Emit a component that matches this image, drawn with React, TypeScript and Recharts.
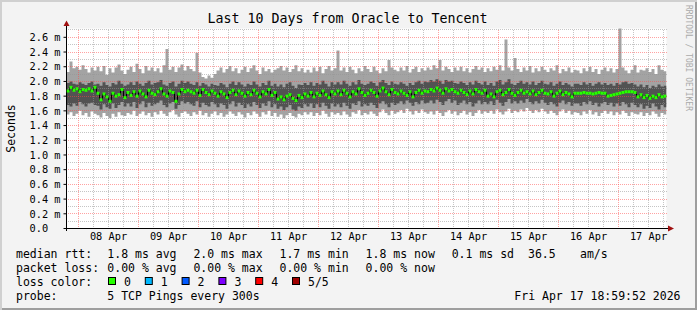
import React from 'react';
import {
  ComposedChart, Area, Line, XAxis, YAxis, CartesianGrid, ReferenceLine, ReferenceDot,
} from 'recharts';

// 5 TCP pings per bucket, sorted: min, 2nd, median, 4th, max (ms)
const minRtt = [
  1.55, 1.58, 1.53, 1.56, 1.60, 1.54, 1.57, 1.52, 1.59, 1.56,
  1.54, 1.51, 1.57, 1.53, 1.50, 1.56, 1.52, 1.58, 1.54, 1.53,
  1.57, 1.55, 1.60, 1.53, 1.56, 1.59, 1.54, 1.57, 1.52, 1.58,
  1.55, 1.60, 1.56, 1.53, 1.58, 1.61, 1.55, 1.52, 1.57, 1.59,
  1.56, 1.53, 1.58, 1.55, 1.60, 1.54, 1.57, 1.52, 1.56, 1.59,
  1.54, 1.57, 1.52, 1.55, 1.59, 1.56, 1.53, 1.58, 1.55, 1.51,
  1.57, 1.54, 1.59, 1.56, 1.52, 1.58, 1.55, 1.60, 1.53, 1.57,
  1.52, 1.55, 1.50, 1.54, 1.57, 1.53, 1.51, 1.56, 1.54, 1.58,
  1.55, 1.58, 1.53, 1.57, 1.54, 1.60, 1.56, 1.52, 1.58, 1.55,
  1.57, 1.54, 1.59, 1.55, 1.52, 1.58, 1.56, 1.61, 1.54, 1.57,
  1.55, 1.59, 1.56, 1.53, 1.58, 1.62, 1.57, 1.54, 1.60, 1.56,
  1.58, 1.61, 1.57, 1.63, 1.59, 1.55, 1.60, 1.57, 1.62, 1.58,
  1.56, 1.59, 1.55, 1.60, 1.57, 1.53, 1.58, 1.61, 1.56, 1.59,
  1.54, 1.57, 1.60, 1.55, 1.58, 1.53, 1.57, 1.61, 1.56, 1.59,
  1.57, 1.60, 1.56, 1.62, 1.58, 1.55, 1.59, 1.63, 1.57, 1.60,
  1.58, 1.62, 1.59, 1.64, 1.60, 1.57, 1.61, 1.58, 1.63, 1.59,
  1.56, 1.60, 1.57, 1.54, 1.59, 1.62, 1.57, 1.60, 1.55, 1.58,
  1.57, 1.54, 1.59, 1.56, 1.61, 1.55, 1.58, 1.53, 1.57, 1.60,
  1.56, 1.59, 1.54, 1.58, 1.55, 1.60, 1.57, 1.53, 1.58, 1.56,
  1.55, 1.58, 1.53, 1.57, 1.54, 1.59, 1.56, 1.52, 1.57, 1.55,
];
const lowRtt = [
  1.68, 1.66, 1.70, 1.67, 1.72, 1.69, 1.66, 1.70, 1.71, 1.68,
  1.67, 1.62, 1.69, 1.65, 1.63, 1.70, 1.64, 1.68, 1.72, 1.66,
  1.70, 1.66, 1.72, 1.64, 1.69, 1.73, 1.65, 1.71, 1.67, 1.69,
  1.71, 1.74, 1.68, 1.65, 1.70, 1.72, 1.63, 1.68, 1.73, 1.70,
  1.72, 1.69, 1.67, 1.73, 1.65, 1.71, 1.68, 1.66, 1.72, 1.69,
  1.65, 1.70, 1.68, 1.63, 1.69, 1.73, 1.66, 1.71, 1.68, 1.64,
  1.69, 1.66, 1.72, 1.68, 1.64, 1.70, 1.67, 1.73, 1.65, 1.69,
  1.63, 1.66, 1.61, 1.65, 1.68, 1.62, 1.60, 1.66, 1.64, 1.69,
  1.66, 1.70, 1.64, 1.69, 1.65, 1.71, 1.67, 1.63, 1.70, 1.66,
  1.69, 1.65, 1.71, 1.67, 1.63, 1.70, 1.68, 1.73, 1.66, 1.69,
  1.67, 1.71, 1.68, 1.64, 1.70, 1.73, 1.69, 1.65, 1.71, 1.68,
  1.70, 1.73, 1.69, 1.74, 1.71, 1.67, 1.72, 1.69, 1.74, 1.70,
  1.71, 1.74, 1.70, 1.75, 1.72, 1.68, 1.73, 1.76, 1.71, 1.74,
  1.68, 1.71, 1.74, 1.69, 1.72, 1.66, 1.70, 1.74, 1.69, 1.72,
  1.69, 1.73, 1.68, 1.75, 1.71, 1.67, 1.72, 1.76, 1.70, 1.73,
  1.70, 1.74, 1.71, 1.76, 1.72, 1.69, 1.73, 1.70, 1.75, 1.71,
  1.68, 1.72, 1.69, 1.66, 1.71, 1.74, 1.69, 1.72, 1.67, 1.70,
  1.70, 1.67, 1.72, 1.69, 1.73, 1.68, 1.71, 1.66, 1.70, 1.72,
  1.68, 1.71, 1.66, 1.70, 1.67, 1.72, 1.69, 1.65, 1.71, 1.68,
  1.65, 1.69, 1.63, 1.67, 1.64, 1.70, 1.66, 1.62, 1.68, 1.65,
];
const medRtt = [
  1.87, 1.92, 1.88, 1.90, 1.86, 1.89, 1.88, 1.90, 1.87, 1.92,
  1.84, 1.75, 1.83, 1.79, 1.73, 1.84, 1.80, 1.82, 1.89, 1.78,
  1.85, 1.81, 1.86, 1.80, 1.87, 1.83, 1.79, 1.88, 1.84, 1.82,
  1.86, 1.90, 1.83, 1.80, 1.87, 1.85, 1.73, 1.83, 1.89, 1.86,
  1.88, 1.86, 1.84, 1.88, 1.81, 1.89, 1.85, 1.82, 1.87, 1.84,
  1.80, 1.86, 1.83, 1.78, 1.85, 1.88, 1.82, 1.87, 1.84, 1.80,
  1.85, 1.82, 1.88, 1.84, 1.79, 1.86, 1.83, 1.89, 1.81, 1.85,
  1.76, 1.79, 1.75, 1.80, 1.82, 1.77, 1.74, 1.81, 1.78, 1.83,
  1.80, 1.85, 1.79, 1.84, 1.81, 1.87, 1.82, 1.78, 1.86, 1.83,
  1.87, 1.82, 1.88, 1.84, 1.79, 1.86, 1.83, 1.90, 1.85, 1.81,
  1.84, 1.88, 1.85, 1.80, 1.87, 1.91, 1.86, 1.82, 1.89, 1.85,
  1.83, 1.87, 1.84, 1.81, 1.86, 1.79, 1.85, 1.88, 1.84, 1.87,
  1.86, 1.89, 1.87, 1.91, 1.88, 1.84, 1.90, 1.87, 1.89, 1.86,
  1.84, 1.88, 1.85, 1.82, 1.87, 1.83, 1.89, 1.86, 1.84, 1.88,
  1.80, 1.83, 1.79, 1.86, 1.88, 1.82, 1.85, 1.89, 1.84, 1.81,
  1.85, 1.88, 1.84, 1.86, 1.83, 1.87, 1.82, 1.85, 1.88, 1.84,
  1.83, 1.86, 1.80, 1.84, 1.87, 1.82, 1.85, 1.83, 1.79, 1.84,
  1.84, 1.84, 1.85, 1.84, 1.84, 1.83, 1.84, 1.85, 1.84, 1.84,
  1.80, 1.81, 1.82, 1.83, 1.84, 1.85, 1.86, 1.86, 1.86, 1.85,
  1.79, 1.82, 1.78, 1.81, 1.77, 1.80, 1.78, 1.82, 1.79, 1.80,
];
const highRtt = [
  1.98, 2.00, 1.97, 1.96, 1.99, 1.97, 1.95, 1.98, 2.00, 1.96,
  1.97, 1.94, 1.99, 1.95, 1.93, 1.98, 1.96, 2.01, 1.97, 1.94,
  1.96, 1.99, 1.95, 2.00, 1.97, 1.94, 1.98, 2.01, 1.96, 1.98,
  1.99, 2.02, 1.96, 1.94, 1.98, 2.00, 1.93, 1.97, 2.01, 1.98,
  2.00, 1.97, 1.95, 1.99, 1.94, 1.98, 1.96, 1.93, 1.97, 1.95,
  1.94, 1.98, 1.96, 1.92, 1.97, 2.00, 1.95, 1.99, 1.96, 1.93,
  1.97, 1.95, 2.00, 1.96, 1.93, 1.98, 1.95, 2.01, 1.94, 1.97,
  1.93, 1.96, 1.92, 1.97, 1.99, 1.94, 1.91, 1.96, 1.95, 1.98,
  1.95, 1.99, 1.94, 1.98, 1.96, 2.01, 1.97, 1.93, 1.99, 1.96,
  1.99, 1.96, 2.01, 1.97, 1.94, 1.99, 1.96, 2.02, 1.97, 1.95,
  1.97, 2.00, 1.98, 1.94, 1.99, 2.02, 1.98, 1.95, 2.00, 1.97,
  1.96, 1.99, 1.97, 1.94, 1.98, 1.95, 1.99, 2.01, 1.97, 2.00,
  1.99, 2.02, 2.00, 2.03, 2.01, 1.97, 2.02, 2.00, 2.01, 1.98,
  1.97, 2.00, 1.98, 1.95, 1.99, 1.96, 2.01, 1.98, 1.96, 2.00,
  1.95, 1.98, 1.94, 2.00, 2.02, 1.96, 1.99, 2.03, 1.97, 1.95,
  1.98, 2.01, 1.97, 1.99, 1.96, 2.00, 1.95, 1.98, 2.01, 1.97,
  1.96, 1.99, 1.94, 1.97, 2.00, 1.95, 1.98, 1.96, 1.93, 1.97,
  1.97, 1.95, 1.99, 1.96, 1.98, 1.94, 1.97, 1.99, 1.96, 1.98,
  1.95, 1.97, 1.94, 1.98, 1.96, 1.99, 2.00, 1.97, 1.98, 1.96,
  1.93, 1.96, 1.92, 1.95, 1.91, 1.94, 1.92, 1.96, 1.93, 1.94,
];
const maxRtt = [
  2.13, 2.27, 2.18, 2.20, 2.16, 2.22, 2.17, 2.12, 2.19, 2.15,
  2.20, 2.14, 2.21, 2.09, 2.18, 2.12, 2.19, 2.23, 2.15, 2.10,
  2.16, 2.20, 2.13, 2.24, 2.17, 2.11, 2.21, 2.15, 2.19, 2.14,
  2.18, 2.12, 2.22, 2.44, 2.16, 2.20, 2.13, 2.19, 2.23, 2.15,
  2.21, 2.17, 2.14, 2.39, 2.12, 2.06, 2.04, 2.08, 2.05, 2.10,
  2.15, 2.19, 2.12, 2.17, 2.21, 2.14, 2.18, 2.11, 2.16, 2.20,
  2.13, 2.18, 2.22, 2.15, 2.10, 2.19, 2.14, 2.17, 2.12, 2.16,
  2.18, 2.21, 2.15, 2.19, 2.13, 2.17, 2.22, 2.14, 2.18, 2.12,
  2.16, 2.12, 2.19, 2.14, 2.20, 2.11, 2.17, 2.21, 2.15, 2.18,
  2.42, 2.15, 2.19, 2.13, 2.20, 2.16, 2.11, 2.18, 2.14, 2.21,
  2.17, 2.13, 2.20, 2.15, 2.11, 2.18, 2.14, 2.29, 2.19, 2.16,
  2.14, 2.19, 2.15, 2.21, 2.12, 2.17, 2.20, 2.13, 2.18, 2.15,
  2.19, 2.16, 2.22, 2.18, 2.29, 2.15, 2.20, 2.17, 2.13, 2.19,
  2.15, 2.20, 2.14, 2.18, 2.12, 2.17, 2.21, 2.16, 2.19, 2.13,
  2.18, 2.14, 2.20, 2.16, 2.22, 2.15, 2.57, 2.19, 2.15, 2.32,
  2.17, 2.13, 2.19, 2.15, 2.21, 2.12, 2.18, 2.14, 2.20, 2.16,
  2.13, 2.18, 2.15, 2.22, 2.11, 2.17, 2.14, 2.19, 2.12, 2.16,
  2.15, 2.11, 2.18, 2.14, 2.20, 2.13, 2.17, 2.10, 2.16, 2.19,
  2.14, 2.18, 2.12, 2.17, 2.80, 2.19, 2.15, 2.11, 2.16, 2.22,
  2.12, 2.16, 2.15, 2.18, 2.13, 2.17, 2.10, 2.22, 2.16, 2.14,
];

const dayLabels = ['08 Apr', '09 Apr', '10 Apr', '11 Apr', '12 Apr', '13 Apr', '14 Apr', '15 Apr', '16 Apr', '17 Apr'];
const yTicks = [0, 0.2, 0.4, 0.6, 0.8, 1.0, 1.2, 1.4, 1.6, 1.8, 2.0, 2.2, 2.4, 2.6];

const rttStats = ['1.8 ms avg', '2.0 ms max', '1.7 ms min', '1.8 ms now', '0.1 ms sd'];
const lossStats = ['0.00 % avg', '0.00 % max', '0.00 % min', '0.00 % now'];
const lossLabels = ['0', '1', '2', '3', '4', '5/5'];
const lossColors = ['#26ff00', '#00b8ff', '#0059ff', '#7e00ff', '#ff0000', '#a00000'];

// time axis in hours since graph start (Apr 7 ~19:00)
const SPAN_HOURS = 240;
const BUCKET_HOURS = SPAN_HOURS / medRtt.length;
const FIRST_MIDNIGHT = 4.8;
const PLOT_W = 600;
const BUCKET_PX = PLOT_W / medRtt.length;

const MONO = "'DejaVu Sans Mono', monospace";
const MGRID = 'rgba(255,70,70,0.5)';
const GRID = 'rgba(150,150,150,0.55)';
const ARROW = '#a01010';

const rows: any[] = medRtt.map((m, i) => ({
  t: i * BUCKET_HOURS,
  min: minRtt[i],
  low: lowRtt[i],
  med: m,
  high: highRtt[i],
  max: maxRtt[i],
}));
rows.push({ ...rows[rows.length - 1], t: SPAN_HOURS, end: true });

const noonTicks = dayLabels.map((_, i) => FIRST_MIDNIGHT + 12 + 24 * i);

const hGrid: number[] = [];
for (let k = 1; k <= 27; k++) hGrid.push(k);
const vGrid: number[] = [];
for (let k = 0; FIRST_MIDNIGHT + 6 * k <= SPAN_HOURS; k++) vGrid.push(k);

function DayTick(props: any) {
  const { x, y, payload, index } = props;
  return (
    <text x={x} y={y} dy="0.71em" textAnchor="middle" fontFamily={MONO} fontSize={10.3} fill="#000">
      {dayLabels[index] ?? payload.value}
    </text>
  );
}

function SecTick(props: any) {
  const { x, y, payload } = props;
  const v = payload.value;
  const label = v === 0 ? '0.0  ' : `${v.toFixed(1)} m`;
  return (
    <text x={x} y={y} dy="0.36em" textAnchor="end" fontFamily={MONO} fontSize={10.3} fill="#000"
      style={{ whiteSpace: 'pre' }}>
      {label}
    </text>
  );
}

function MedianDot(props: any) {
  const { cx, cy, payload, index } = props;
  if (payload?.end || cx == null || cy == null) return <g key={`md${index}`} />;
  return <rect key={`md${index}`} x={cx} y={cy - 1.5} width={BUCKET_PX} height={3} fill={lossColors[0]} />;
}

export default function App() {
  return (
    <div style={{
      position: 'absolute', left: 0, top: 0, width: 697, height: 310, background: '#f3f3f3',
      boxShadow: 'inset 2px 2px 0 #d0d0d0, inset -2px -2px 0 #9e9e9e',
    }}>
      <ComposedChart width={697} height={310} data={rows}
        margin={{ top: 28.5, right: 30.5, bottom: 0, left: 0.5 }}>
        <CartesianGrid horizontal={false} vertical={false} fill="#ffffff" />
        <XAxis dataKey="t" type="number" domain={[0, SPAN_HOURS]} ticks={noonTicks} interval={0}
          height={81.5} tickLine={false} axisLine={false} tickSize={2} tickMargin={2}
          tick={<DayTick />} allowDataOverflow />
        <YAxis type="number" domain={[0, 2.72]} ticks={yTicks} interval={0} width={66}
          allowDataOverflow axisLine={false} tickSize={3} tickMargin={3}
          tickLine={{ stroke: '#000' }} tick={<SecTick />} />
        <Area dataKey={(d: any) => [d.min, d.max]} type="stepAfter" stroke="none"
          fill="#a3a3a3" fillOpacity={1} isAnimationActive={false} />
        <Area dataKey={(d: any) => [d.low, d.high]} type="stepAfter" stroke="none"
          fill="#525252" fillOpacity={1} isAnimationActive={false} />
        {hGrid.map((k) => (
          <ReferenceLine key={`h${k}`} y={k / 10} stroke={k % 2 === 0 ? MGRID : GRID}
            strokeDasharray="1 1" strokeDashoffset={0.5} shapeRendering="crispEdges" />
        ))}
        {vGrid.map((k) => (
          <ReferenceLine key={`v${k}`} x={FIRST_MIDNIGHT + 6 * k} stroke={k % 4 === 0 ? MGRID : GRID}
            strokeDasharray="1 1" strokeDashoffset={0.5} shapeRendering="crispEdges" />
        ))}
        <Line dataKey="med" type="stepAfter" stroke="#000" strokeWidth={1}
          dot={MedianDot} activeDot={false} isAnimationActive={false} />
        <ReferenceLine segment={[{ x: 0, y: -0.04 }, { x: 0, y: 2.76 }]} ifOverflow="visible"
          stroke="#000" shapeRendering="crispEdges" />
        <ReferenceLine segment={[{ x: -1.2, y: 0 }, { x: 241, y: 0 }]} ifOverflow="visible"
          stroke="#000" shapeRendering="crispEdges" />
        <ReferenceDot x={0} y={2.72} ifOverflow="visible"
          shape={(p: any) => (
            <path d={`M${p.cx - 3},${p.cy - 2.5} L${p.cx + 3},${p.cy - 2.5} L${p.cx},${p.cy - 8} Z`} fill={ARROW} />
          )} />
        <ReferenceDot x={SPAN_HOURS} y={0} ifOverflow="visible"
          shape={(p: any) => (
            <path d={`M${p.cx + 1.5},${p.cy - 3} L${p.cx + 1.5},${p.cy + 3} L${p.cx + 7.5},${p.cy} Z`} fill={ARROW} />
          )} />
      </ComposedChart>

      <svg width={697} height={310} style={{ position: 'absolute', left: 0, top: 0, pointerEvents: 'none' }}
        fontFamily={MONO}>
        <text x={347.5} y={23} textAnchor="middle" fontSize={13.3} fill="#000">
          Last 10 Days from Oracle to Tencent
        </text>
        <text x={15} y={128.5} textAnchor="middle" fontSize={11.5} fill="#000"
          transform="rotate(-90 15 128.5)">Seconds</text>
        <text x={685.5} y={5} fontSize={8} fill="#aaaaaa" transform="rotate(90 685.5 5)">
          RRDTOOL / TOBI OETIKER
        </text>

        <g fontSize={11.5} fill="#000" style={{ whiteSpace: 'pre' }}>
          <text x={16} y={257.5}>median rtt:</text>
          {rttStats.map((s, i) => (
            <text key={s} x={107.3 + 86.1 * i} y={257.5}>{s}</text>
          ))}
          <text x={528} y={257.5}>36.5</text>
          <text x={580} y={257.5}>am/s</text>

          <text x={16} y={271.5}>packet loss:</text>
          {lossStats.map((s, i) => (
            <text key={s + i} x={107.3 + 86.1 * i} y={271.5}>{s}</text>
          ))}

          <text x={16} y={285.5}>loss color:</text>
          {lossLabels.map((s, i) => (
            <g key={s}>
              <rect x={108.5 + 36.8 * i} y={277.5} width={7} height={7} fill={lossColors[i]} stroke="#000" />
              <text x={124 + 36.8 * i} y={285.5}>{s}</text>
            </g>
          ))}

          <text x={16} y={299.5}>probe:</text>
          <text x={107.3} y={299.5}>5 TCP Pings every 300s</text>
          <text x={680.5} y={299.5} textAnchor="end">Fri Apr 17 18:59:52 2026</text>
        </g>
      </svg>
    </div>
  );
}
